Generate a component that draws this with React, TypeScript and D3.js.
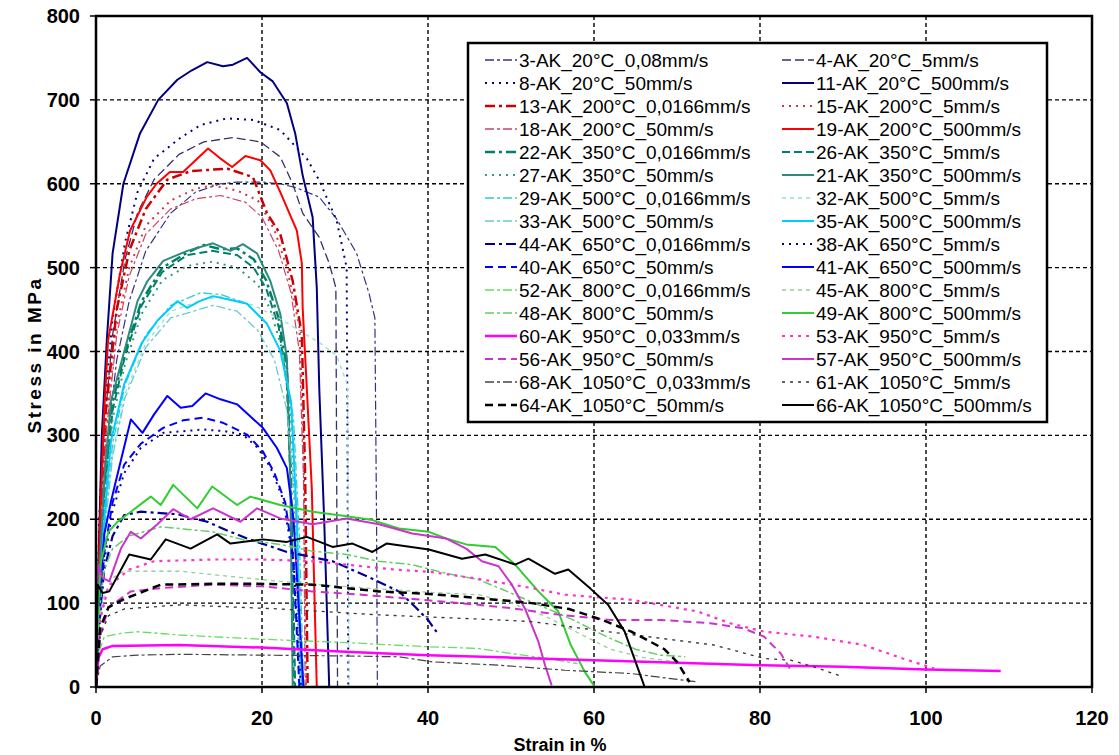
import React from "react";
import * as d3 from "d3";

type P = [number, number];

// ---- data: strain (%) vs stress (MPa) ----
const s3: P[] = [[0,0],[0.5,150],[1.2,280],[2.5,390],[4,460],[6,520],[9,565],[12,590],[15,600],[17,602],[20,602],[22.2,600],[24.2,595],[26.9,584],[29,558],[31.4,517],[32.9,469],[33.6,440],[33.8,200],[33.9,0]];
const s4: P[] = [[0,0],[0.4,180],[1,310],[2,420],[3.5,510],[5,565],[7,605],[10,635],[13,650],[16.5,655],[19.8,650],[22.2,632],[23.7,600],[24.9,565],[26.9,536],[28.1,505],[28.9,476],[29,250],[29.1,0]];
const s8: P[] = [[0,0],[0.4,200],[1,330],[2,440],[3.5,530],[5,590],[7,630],[10.2,655],[12.6,670],[15.8,678],[19,676],[22.2,664],[25.4,630],[26.9,604],[29,556],[30.2,500],[30.3,300],[30.4,0]];
const s11: P[] = [[0,0],[0.3,150],[0.7,300],[1.3,413],[2,517],[3.3,600],[5.3,660],[7.5,700],[9.8,724],[11.5,735],[13.4,745],[15.3,740],[16.5,742],[18.2,750],[19.8,733],[21.3,722],[23,696],[24,660],[24.9,610],[26.1,560],[26.6,476],[26.9,356],[27.5,197],[28.1,0]];
const s13: P[] = [[0,0],[0.5,180],[1.2,330],[2.5,450],[4,520],[6,570],[8.6,605],[11.4,615],[15.8,618],[18.9,608],[20.6,565],[22.2,540],[23.7,484],[24.8,420],[25.2,250],[25.5,0]];
const s15: P[] = [[0,0],[0.5,170],[1.2,310],[2.5,430],[4,500],[6,550],[9,580],[12,594],[14,598],[17,592],[19.5,580],[21.5,545],[23,500],[24.5,430],[25,300],[25.3,0]];
const s18: P[] = [[0,0],[0.5,160],[1.2,300],[2.5,420],[4,490],[6,540],[9,570],[12,582],[15,586],[18,578],[20,560],[22,520],[23.5,470],[24.5,400],[25,250],[25.2,0]];
const s19: P[] = [[0,0],[0.5,200],[1,330],[1.45,413],[2.9,493],[4.1,544],[6.1,584],[7.3,600],[8.9,614],[10.5,614],[12,628],[13.5,642],[15,630],[16.4,620],[18,633],[19.8,628],[21,616],[22.2,590],[24.2,544],[24.8,505],[24.9,452],[25.4,356],[26,237],[26.3,117],[26.6,0]];
const s22: P[] = [[0,0],[0.5,140],[1,240],[2,340],[3.5,400],[5.5,460],[8,500],[11,518],[13,527],[15,522],[17,523],[19,510],[20.5,485],[22,440],[23,380],[23.5,250],[23.8,0]];
const s26: P[] = [[0,0],[0.5,130],[1,230],[2,330],[3.5,395],[5.5,455],[8,495],[11,515],[14,520],[17,515],[19,500],[20.5,475],[22,430],[23,360],[23.6,200],[24,0]];
const s27: P[] = [[0,0],[0.5,120],[1,220],[2,320],[3.5,385],[5.5,445],[8,485],[11,502],[14,507],[17,500],[19.5,480],[21,450],[22.5,400],[23.5,320],[24.2,150],[24.5,0]];
const s21: P[] = [[0,0],[0.5,150],[1,250],[1.8,341],[3.4,400],[5,460],[6.2,484],[8.1,508],[11,520],[14.1,529],[16.2,520],[17.7,528],[19.4,517],[21,484],[22.2,445],[23,392],[23.4,250],[23.7,0]];
const s29: P[] = [[0,0],[0.5,110],[1,190],[2,290],[3.5,360],[6,420],[9,455],[12.6,470],[15,468],[18,458],[20.5,435],[22.5,395],[23.8,320],[24.5,180],[25,0]];
const s32: P[] = [[0,0],[0.5,100],[1,185],[2,280],[3.5,350],[6,410],[9,448],[13,462],[15,465],[19,455],[22,440],[24.5,425],[27,410],[29,395],[30.3,360],[30.4,200],[30.5,0]];
const s33: P[] = [[0,0],[0.5,100],[1,180],[2,275],[3.5,345],[6,405],[9,440],[14.1,455],[17,448],[19.5,425],[21.5,390],[23,330],[24,220],[24.6,0]];
const s35: P[] = [[0,0],[0.5,120],[1,200],[1.8,293],[3.4,361],[5.5,410],[7.4,437],[9.8,460],[11,452],[12.5,460],[14.1,466],[16,462],[18.2,457],[20.6,433],[22.2,401],[23.5,340],[24.2,200],[24.8,0]];
const s44: P[] = [[0,0],[0.4,80],[1,140],[2,180],[3.4,205],[5.4,209],[9.8,206],[13.4,197],[16.2,185],[18.2,177],[23,161],[28.5,150],[33.3,129],[36.5,114],[38.5,95],[40,80],[41.3,62]];
const s38: P[] = [[0,0],[0.4,70],[1,150],[2,210],[3.4,255],[5.4,285],[8.1,303],[12.9,307],[15.5,305],[17.7,301],[19.5,285],[21,262],[22.5,225],[23.8,150],[24.7,0]];
const s40: P[] = [[0,0],[0.4,80],[1,160],[2,220],[3.4,265],[5.4,290],[8.1,309],[10.5,318],[12.9,321],[15.3,315],[18.2,301],[20.1,281],[21.5,255],[22.8,220],[23.8,150],[24.5,0]];
const s41: P[] = [[0,0],[0.3,90],[1,182],[1.8,221],[2.6,254],[4.2,319],[5.6,303],[7,325],[8.6,347],[10.2,333],[11.6,335],[13.2,350],[15,343],[17,337],[20.1,309],[21.8,285],[23,261],[23.8,200],[24.4,100],[25,0]];
const s52: P[] = [[0,0],[0.3,40],[1,60],[3,64],[5,66],[10,62],[20,57],[30,53],[40,48],[46,46],[50,40],[55,33],[58,28]];
const s45: P[] = [[0,0],[0.4,70],[1,110],[2,130],[3.4,138],[10.2,138],[16,132],[22.2,126],[28,121],[34.1,117],[40,113],[46.1,110],[50,100],[54,85],[58,65],[62,45],[66,35],[70,30]];
const s48: P[] = [[0,0],[0.4,90],[1,140],[2,165],[4,180],[7.8,191],[12,187],[14.1,185],[18,175],[22.2,170],[26,162],[30.2,158],[34,150],[38,146],[42,136],[46.1,128],[50,112],[53.3,98],[57.5,80],[61.5,60],[65,45],[68,38],[71,36]];
const s49: P[] = [[0,0],[0.3,100],[0.6,150],[1.5,185],[2.6,197],[4.2,209],[6.6,227],[7.8,217],[9.3,241],[12.2,213],[14,239],[17,217],[18.6,227],[22.2,217],[26.1,209],[30,204],[33.3,199],[36.5,189],[40.1,185],[42.2,177],[44.6,170],[48.1,167],[50.5,146],[53.3,114],[55.7,90],[57.2,50],[58.9,18],[60.1,0]];
const s60: P[] = [[0,0],[0.3,35],[0.8,45],[2,49],[10,50],[20,47],[30,42],[40,38],[50,35],[60,32],[70,29],[80,26],[90,24],[100,21],[109,19]];
const s53: P[] = [[0,0],[0.5,80],[1.5,120],[4,140],[7,150],[14,152],[20,152],[26,150],[36,140],[40.5,137],[46,129],[52.5,118],[56.5,110],[64.5,104],[72.5,90],[76.4,76],[80.5,66],[86.5,60],[92.5,50],[97.2,34],[101,22]];
const s56: P[] = [[0,0],[0.5,60],[1.5,95],[4.2,114],[8,118],[14.1,122],[20,120],[26.1,114],[32,110],[38.1,105],[46.1,98],[50,94],[56,86],[62,80],[68,80],[74,76],[78,70],[80.5,60],[82.5,40],[83.6,22]];
const s57: P[] = [[0,0],[0.2,146],[0.8,130],[1.6,126],[3,165],[4.2,185],[5.4,177],[7.4,194],[9.3,212],[11.4,200],[14.1,213],[17.4,197],[19.4,213],[22.2,201],[26.1,194],[30.2,201],[34.1,194],[38.1,183],[42.2,177],[44.6,165],[46.5,150],[48.5,144],[50.1,122],[51.7,93],[53.3,54],[54.1,26],[54.9,2]];
const s68: P[] = [[0,0],[0.5,25],[2,36],[5,38],[10,39],[20,38],[30,37],[36.5,36],[40.5,30],[48.5,26],[56.5,20],[64.5,16],[72.5,6]];
const s61: P[] = [[0,0],[0.5,60],[1.5,85],[3.4,93],[10.2,98],[22.2,93],[34.1,86],[46.1,81],[52.5,78],[60,68],[66.5,60],[74.5,50],[80.5,34],[83.7,32],[86.5,24],[90,12]];
const s64: P[] = [[0,0],[0.5,70],[1.5,95],[3.4,105],[7.8,122],[14.1,123],[19.4,123],[26.1,122],[34.1,114],[40.1,111],[46.1,106],[52.5,100],[57,93],[61,80],[64.5,66],[68.5,45],[70,30],[71.5,6]];
const s66: P[] = [[0,0],[0.2,122],[0.8,112],[1.6,114],[4,158],[6.6,152],[8.4,176],[11.4,165],[14.6,182],[16.2,171],[20.1,176],[23,173],[25.4,179],[28.5,167],[30.9,171],[33.3,161],[35,171],[40.1,164],[44.1,153],[46.9,158],[50.5,146],[52.1,153],[55.3,135],[56.9,140],[59.6,117],[61.7,98],[63.7,66],[64.9,33],[66.1,0]];

const xTicks = [0, 20, 40, 60, 80, 100, 120];
const yTicks = [0, 100, 200, 300, 400, 500, 600, 700, 800];

// ---- series styling (legend order: left/right columns row by row) ----
const SERIES = [
  { label: "3-AK_20°C_0,08mm/s", data: s3, color: "#333380", dash: "9,3,3,3", width: 1.2 },
  { label: "4-AK_20°C_5mm/s", data: s4, color: "#333366", dash: "9,4", width: 1.3 },
  { label: "8-AK_20°C_50mm/s", data: s8, color: "#000080", dash: "2,5", width: 2 },
  { label: "11-AK_20°C_500mm/s", data: s11, color: "#000080", dash: "", width: 2 },
  { label: "13-AK_200°C_0,0166mm/s", data: s13, color: "#cc0000", dash: "10,4,3,4", width: 2.5 },
  { label: "15-AK_200°C_5mm/s", data: s15, color: "#cc3344", dash: "2,5", width: 2 },
  { label: "18-AK_200°C_50mm/s", data: s18, color: "#cc4466", dash: "9,3,3,3", width: 1.2 },
  { label: "19-AK_200°C_500mm/s", data: s19, color: "#ff0000", dash: "", width: 2 },
  { label: "22-AK_350°C_0,0166mm/s", data: s22, color: "#008066", dash: "10,4,3,4", width: 2.5 },
  { label: "26-AK_350°C_5mm/s", data: s26, color: "#00806b", dash: "8,4", width: 2 },
  { label: "27-AK_350°C_50mm/s", data: s27, color: "#339980", dash: "2,5", width: 2 },
  { label: "21-AK_350°C_500mm/s", data: s21, color: "#2f8a7e", dash: "", width: 2 },
  { label: "29-AK_500°C_0,0166mm/s", data: s29, color: "#33cccc", dash: "9,3,3,3", width: 1.3 },
  { label: "32-AK_500°C_5mm/s", data: s32, color: "#99dddd", dash: "4,4", width: 1.3 },
  { label: "33-AK_500°C_50mm/s", data: s33, color: "#66cccc", dash: "9,3,3,3", width: 1.3 },
  { label: "35-AK_500°C_500mm/s", data: s35, color: "#00ccff", dash: "", width: 2 },
  { label: "44-AK_650°C_0,0166mm/s", data: s44, color: "#000099", dash: "10,4,3,4", width: 2.2 },
  { label: "38-AK_650°C_5mm/s", data: s38, color: "#000099", dash: "2,5", width: 2 },
  { label: "40-AK_650°C_50mm/s", data: s40, color: "#0000ff", dash: "8,5", width: 2 },
  { label: "41-AK_650°C_500mm/s", data: s41, color: "#0000ff", dash: "", width: 2 },
  { label: "52-AK_800°C_0,0166mm/s", data: s52, color: "#66dd66", dash: "9,3,3,3", width: 1.3 },
  { label: "45-AK_800°C_5mm/s", data: s45, color: "#99cc99", dash: "4,4", width: 1.3 },
  { label: "48-AK_800°C_50mm/s", data: s48, color: "#66cc66", dash: "9,3,3,3", width: 1.5 },
  { label: "49-AK_800°C_500mm/s", data: s49, color: "#33cc33", dash: "", width: 2 },
  { label: "60-AK_950°C_0,033mm/s", data: s60, color: "#ff00ff", dash: "", width: 2.5 },
  { label: "53-AK_950°C_5mm/s", data: s53, color: "#ff33cc", dash: "3,5", width: 2.2 },
  { label: "56-AK_950°C_50mm/s", data: s56, color: "#cc33cc", dash: "8,5", width: 2 },
  { label: "57-AK_950°C_500mm/s", data: s57, color: "#cc33cc", dash: "", width: 2 },
  { label: "68-AK_1050°C_0,033mm/s", data: s68, color: "#444444", dash: "9,3,3,3", width: 1.2 },
  { label: "61-AK_1050°C_5mm/s", data: s61, color: "#333333", dash: "3,5", width: 1.3 },
  { label: "64-AK_1050°C_50mm/s", data: s64, color: "#000000", dash: "8,5", width: 2.5 },
  { label: "66-AK_1050°C_500mm/s", data: s66, color: "#000000", dash: "", width: 2 },
];

const W = 1119;
const H = 755;
const X0 = 96, X1 = 1092, Y0 = 687, Y1 = 16;

export default function App() {
  const x = d3.scaleLinear().domain([0, 120]).range([X0, X1]);
  const y = d3.scaleLinear().domain([0, 800]).range([Y0, Y1]);
  const line = d3.line<P>().x((d) => x(d[0])).y((d) => y(d[1]));
  const font = "Arial, 'Liberation Sans', sans-serif";

  const legX = 468, legY = 43, legW = 579, legH = 379;
  const rowH = 23;
  const colX = [485, 782];
  const sampleW = 32;

  return (
    <svg width={W} height={H} style={{ position: "absolute", left: 0, top: 0, background: "#fff" }} fontFamily={font}>
      <rect x={0} y={0} width={W} height={H} fill="#fff" />
      {/* grid */}
      {xTicks.slice(1, -1).map((t) => (
        <line key={"gx" + t} x1={x(t)} x2={x(t)} y1={Y1} y2={Y0} stroke="#000" strokeWidth={1.4} strokeDasharray="4,3" />
      ))}
      {yTicks.slice(1, -1).map((t) => (
        <line key={"gy" + t} x1={X0} x2={X1} y1={y(t)} y2={y(t)} stroke="#000" strokeWidth={1.4} strokeDasharray="4,3" />
      ))}
      {/* curves */}
      <defs>
        <clipPath id="plotclip">
          <rect x={X0} y={Y1} width={X1 - X0} height={Y0 - Y1} />
        </clipPath>
      </defs>
      <g clipPath="url(#plotclip)">
        {SERIES.map((s) => (
          <path key={s.label} d={line(s.data) || ""} fill="none" stroke={s.color} strokeWidth={s.width} strokeDasharray={s.dash || undefined} strokeLinejoin="round" />
        ))}
      </g>
      {/* frame */}
      <rect x={X0} y={Y1} width={X1 - X0} height={Y0 - Y1} fill="none" stroke="#000" strokeWidth={2.5} />
      {/* ticks */}
      {yTicks.map((t) => (
        <g key={"yt" + t}>
          <line x1={X0 - 6} x2={X0} y1={y(t)} y2={y(t)} stroke="#000" strokeWidth={1.5} />
          <text x={80} y={y(t)} textAnchor="end" dominantBaseline="central" fontSize={20} fontWeight="bold">{t}</text>
        </g>
      ))}
      {xTicks.map((t) => (
        <g key={"xt" + t}>
          <line x1={x(t)} x2={x(t)} y1={Y0} y2={Y0 + 6} stroke="#000" strokeWidth={1.5} />
          <text x={x(t)} y={718} textAnchor="middle" dominantBaseline="central" fontSize={20} fontWeight="bold">{t}</text>
        </g>
      ))}
      {/* axis titles */}
      <text x={560} y={745} textAnchor="middle" dominantBaseline="central" fontSize={18} fontWeight="bold">Strain in %</text>
      <text transform={`translate(34,355) rotate(-90)`} textAnchor="middle" dominantBaseline="central" fontSize={19} fontWeight="bold" letterSpacing={2.5}>Stress in MPa</text>
      {/* legend */}
      <rect x={legX} y={legY} width={legW} height={legH} fill="#fff" stroke="#000" strokeWidth={2.5} />
      {SERIES.map((s, i) => {
        const row = Math.floor(i / 2);
        const col = i % 2;
        const cy = 60 + row * rowH;
        const lx = colX[col];
        return (
          <g key={"lg" + s.label}>
            <line x1={lx} x2={lx + sampleW} y1={cy} y2={cy} stroke={s.color} strokeWidth={Math.max(s.width, 1.5)} strokeDasharray={s.dash || undefined} />
            <text x={lx + sampleW + 2} y={cy} dominantBaseline="central" fontSize={19}>{s.label}</text>
          </g>
        );
      })}
    </svg>
  );
}
